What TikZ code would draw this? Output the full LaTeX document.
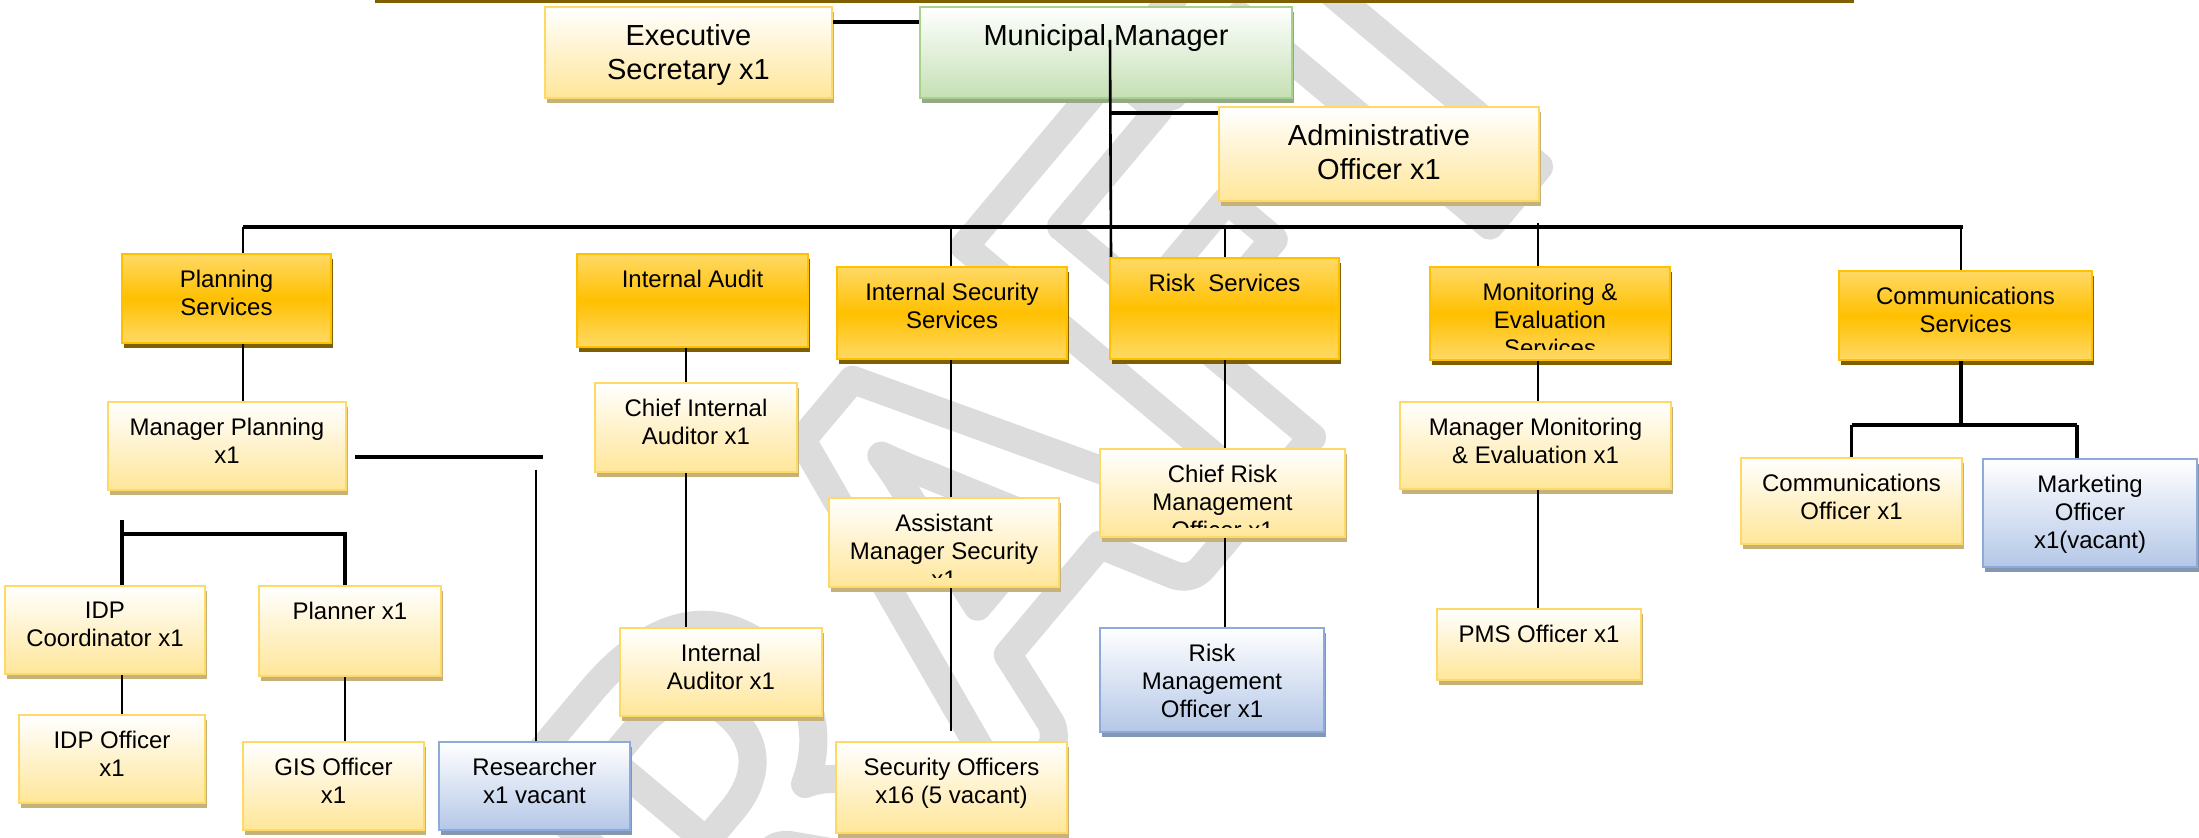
\documentclass[tikz,border=0pt]{standalone}
\usepackage{fontspec}
\setmainfont{Liberation Sans}
\newfontfamily\draftfont{Carlito}
\usepackage{xcolor}
\usetikzlibrary{shadows}
\definecolor{postedge}{HTML}{FFD966}
\definecolor{postfill}{HTML}{FFE699}
\definecolor{postshade}{HTML}{C4B27A}
\definecolor{unitedge}{HTML}{FFC000}
\definecolor{unitlight}{HTML}{FFD966}
\definecolor{unitfill}{HTML}{FFC000}
\definecolor{unitshade}{HTML}{7F6000}
\definecolor{vacantedge}{HTML}{8EAADB}
\definecolor{vacantfill}{HTML}{B4C7E7}
\definecolor{vacantshade}{HTML}{8497B0}
\definecolor{headedge}{HTML}{A9D18E}
\definecolor{headfill}{HTML}{C5E0B4}
\definecolor{headshade}{HTML}{94A88A}
\definecolor{rulegold}{HTML}{7F6000}
\definecolor{draftgray}{HTML}{DCDCDC}
\tikzset{
	box/.style={rectangle, inner sep=0pt, line width=1pt},
	post/.style={box, draw=postedge, top color=white, bottom color=postfill,
			drop shadow={shadow xshift=1.2pt, shadow yshift=-2.5pt, fill=postshade, opacity=1}},
	unit/.style={box, draw=unitedge, top color=unitlight, bottom color=unitlight, middle color=unitfill,
			drop shadow={shadow xshift=1.2pt, shadow yshift=-2.5pt, fill=unitshade, opacity=1}},
	vacant/.style={box, draw=vacantedge, top color=white, bottom color=vacantfill,
			drop shadow={shadow xshift=1.2pt, shadow yshift=-2.5pt, fill=vacantshade, opacity=1}},
	headpost/.style={box, draw=headedge, top color=white, bottom color=headfill,
			drop shadow={shadow xshift=1.2pt, shadow yshift=-2.5pt, fill=headshade, opacity=1}},
	posttext/.style={anchor=north, yshift=-8.5pt, align=center, inner sep=0pt, font=\fontsize{12}{14}\selectfont},
	bigtext/.style={anchor=north, yshift=-9pt, align=center, inner sep=0pt, font=\fontsize{14.5}{17}\selectfont},
	thickbar/.style={line width=1.8pt},
	thinbar/.style={line width=1.3pt}
}

\begin{document}
\begin{tikzpicture}[x=0.5pt, y=-0.5pt]
			\useasboundingbox (0,0) rectangle (2199,838);

			\node[rotate=50, text=draftgray, inner sep=0pt, font=\draftfont\bfseries\fontsize{300}{300}\selectfont] (draft) at (930,590)
				{\special{pdf:literal direct 1 Tr 14 w 1 j}DRAFT};

			\draw[rulegold, line width=1.5pt]	(375,1.5) to (1854,1.5);

			\node[post, minimum width=143.5pt, minimum height=45.5pt, label={[bigtext]north:Executive\\Secretary x1}] (exec) at (688.5,52.5) {};
			\node[headpost, minimum width=186pt, minimum height=45.5pt, label={[bigtext]north:Municipal Manager}] (mm) at (1106,52.5) {};
			\node[post, minimum width=160pt, minimum height=47pt, label={[bigtext]north:Administrative\\Officer x1}] (admin) at (1379,154) {};

			\node[unit, minimum width=104.5pt, minimum height=44.5pt, label={[posttext]north:Planning\\Services}] (plan) at (226.5,298.5) {};
			\node[unit, minimum width=115.5pt, minimum height=46.5pt, label={[posttext]north:Internal Audit}] (audit) at (692.5,300.5) {};
			\node[unit, minimum width=115pt, minimum height=46pt, label={[posttext]north:Internal Security\\Services}] (iss) at (952,313) {};
			\node[unit, minimum width=114.5pt, minimum height=50.5pt, label={[posttext]north:Risk~~Services}] (risk) at (1224.5,308.5) {};
			\node[unit, minimum width=120pt, minimum height=46.5pt] (me) at (1550,313.5) {};
			\node[unit, minimum width=126.5pt, minimum height=44.5pt, label={[posttext]north:Communications\\Services}] (comms) at (1965.5,315.5) {};

			\node[post, minimum width=119pt, minimum height=44pt, label={[posttext]north:Manager Planning\\x1}] (mplan) at (227,446) {};
			\node[post, minimum width=101pt, minimum height=44.5pt, label={[posttext]north:Chief Internal\\Auditor x1}] (cia) at (696,427.5) {};
			\node[post, minimum width=115pt, minimum height=44.5pt] (ams) at (944,542.5) {};
			\node[post, minimum width=122.5pt, minimum height=44pt] (crmo) at (1222.5,493) {};
			\node[post, minimum width=135.5pt, minimum height=43.5pt, label={[posttext]north:Manager Monitoring\\\& Evaluation x1}] (mme) at (1535.5,445.5) {};
			\node[post, minimum width=110.5pt, minimum height=43pt, label={[posttext]north:Communications\\Officer x1}] (commo) at (1851.5,501) {};
			\node[vacant, minimum width=107pt, minimum height=54pt, label={[posttext]north:Marketing\\Officer\\x1(vacant)}] (mkt) at (2090,513) {};

			\node[post, minimum width=100pt, minimum height=44pt, label={[posttext]north:IDP\\Coordinator x1}] (idpc) at (105,630) {};
			\node[post, minimum width=91pt, minimum height=45pt, label={[posttext]north:Planner x1}] (planner) at (350,631) {};
			\node[post, minimum width=101pt, minimum height=44pt, label={[posttext]north:Internal\\Auditor x1}] (ia) at (721,672) {};
			\node[vacant, minimum width=112pt, minimum height=52pt, label={[posttext]north:Risk\\Management\\Officer x1}] (rmo) at (1212,680) {};
			\node[post, minimum width=102pt, minimum height=35.5pt, label={[posttext]north:PMS Officer x1}] (pms) at (1539,644.5) {};

			\node[post, minimum width=93pt, minimum height=44pt, label={[posttext]north:IDP Officer\\x1}] (idpo) at (112,759) {};
			\node[post, minimum width=90.5pt, minimum height=44pt, label={[posttext]north:GIS Officer\\x1}] (gis) at (333.5,786) {};
			\node[vacant, minimum width=95.5pt, minimum height=44pt, label={[posttext]north:Researcher\\x1 vacant}] (res) at (534.5,786) {};
			\node[post, minimum width=115.5pt, minimum height=45.5pt, label={[posttext]north:Security Officers\\x16 (5 vacant)}] (secoff) at (951.5,787.5) {};

			\begin{scope}
				\clip (me.north west) rectangle ([yshift=5.5pt]me.south east);
				\node[posttext] (metext) at (me.north) {Monitoring \&\\Evaluation\\Services};
			\end{scope}
			\begin{scope}
				\clip (ams.north west) rectangle ([yshift=5pt]ams.south east);
				\node[posttext] (amstext) at (ams.north) {Assistant\\Manager Security\\x1};
			\end{scope}
			\begin{scope}
				\clip (crmo.north west) rectangle ([yshift=5pt]crmo.south east);
				\node[posttext] (crmotext) at (crmo.north) {Chief Risk\\Management\\Officer x1};
			\end{scope}

			\coordinate (busW) at (243,227);
			\coordinate (busE) at (1963,227);
			\coordinate (xplan) at (243,227);
			\coordinate (xaudit) at (686,227);
			\coordinate (xiss) at (951,227);
			\coordinate (xrisk) at (1225,227);
			\coordinate (xme) at (1538,223);
			\coordinate (xcomm) at (1961,227);
			\coordinate (mmdown) at (1110,40);
			\coordinate (adminjoin) at (1111,113);
			\coordinate (mpstub) at (543,457);
			\coordinate (resstub) at (536,470);
			\coordinate (brkstub) at (122,520);
			\coordinate (brkR) at (345,534);
			\coordinate (commjoin) at (1961,425);
			\coordinate (mktjoin) at (2077,425);

			\draw[thickbar]	([yshift=-8pt]exec.north east) to ([yshift=-8pt]mm.north west);
			\draw[thinbar]	(mmdown) to ([xshift=1pt]risk.north west);
			\draw[thickbar]	(adminjoin) to (adminjoin -| admin.west);
			\draw[thickbar]	(busW) to (busE);

			\draw[thinbar]	(xplan) to (xplan |- plan.north);
			\draw[thinbar]	(xplan |- plan.south) to (xplan |- mplan.north);
			\draw[thickbar]	([xshift=4pt]mpstub -| mplan.east) to (mpstub);
			\draw[thinbar]	(resstub) to (resstub |- res.north);
			\draw[thickbar]	(brkstub) to (brkstub |- idpc.north);
			\draw[thickbar]	(brkstub |- brkR) to (brkR) to (brkR |- planner.north);
			\draw[thinbar]	(brkstub |- idpc.south) to (brkstub |- idpo.north);
			\draw[thinbar]	(brkR |- planner.south) to (brkR |- gis.north);

			\draw[thinbar]	(xaudit |- audit.south) to (xaudit |- cia.north);
			\draw[thinbar]	(xaudit |- cia.south) to (xaudit |- ia.north);

			\draw[thinbar]	(xiss) to (xiss |- iss.north);
			\draw[thinbar]	(xiss |- iss.south) to (xiss |- ams.north);
			\draw[thinbar]	(xiss |- ams.south) to ([yshift=5pt]xiss |- secoff.north);

			\draw[thinbar]	(xrisk) to (xrisk |- risk.north);
			\draw[thinbar]	(xrisk |- risk.south) to (xrisk |- crmo.north);
			\draw[thinbar]	(xrisk |- crmo.south) to (xrisk |- rmo.north);

			\draw[thinbar]	(xme) to (xme |- me.north);
			\draw[thinbar]	(xme |- me.south) to (xme |- mme.north);
			\draw[thinbar]	(xme |- mme.south) to (xme |- pms.north);

			\draw[thinbar]	(xcomm) to (xcomm |- comms.north);
			\draw[thickbar]	(xcomm |- comms.south) to (commjoin);
			\draw[thickbar]	(commo.north |- commjoin) to (mktjoin);
			\draw[thickbar]	(commo.north |- commjoin) to (commo.north);
			\draw[thickbar]	(mktjoin) to (mktjoin |- mkt.north);
		\end{tikzpicture}
\end{document}
